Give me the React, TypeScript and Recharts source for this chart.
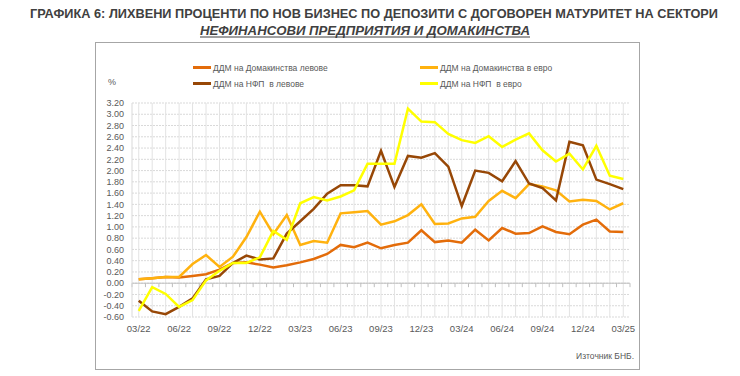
import React from 'react';
import { LineChart, Line, XAxis, YAxis, CartesianGrid, ReferenceLine } from 'recharts';

// месеци 03/22 - 03/25
const months = [
  '03/22', '04/22', '05/22', '06/22', '07/22', '08/22', '09/22', '10/22', '11/22', '12/22',
  '01/23', '02/23', '03/23', '04/23', '05/23', '06/23', '07/23', '08/23', '09/23', '10/23',
  '11/23', '12/23', '01/24', '02/24', '03/24', '04/24', '05/24', '06/24', '07/24', '08/24',
  '09/24', '10/24', '11/24', '12/24', '01/25', '02/25', '03/25',
];

const hhBgn = [
  0.07, 0.09, 0.11, 0.10, 0.13, 0.16, 0.24, 0.36, 0.37, 0.33,
  0.28, 0.32, 0.37, 0.43, 0.52, 0.68, 0.64, 0.72, 0.62, 0.68,
  0.72, 0.94, 0.73, 0.76, 0.72, 0.95, 0.76, 0.98, 0.88, 0.89,
  1.01, 0.91, 0.87, 1.04, 1.13, 0.92, 0.91,
];

const hhEur = [
  0.07, 0.09, 0.11, 0.11, 0.34, 0.50, 0.29, 0.47, 0.82, 1.27,
  0.87, 1.21, 0.68, 0.75, 0.72, 1.24, 1.26, 1.28, 1.04, 1.10,
  1.21, 1.40, 1.05, 1.06, 1.15, 1.18, 1.46, 1.64, 1.51, 1.76,
  1.72, 1.65, 1.45, 1.48, 1.46, 1.31, 1.42,
];

const nfcBgn = [
  -0.31, -0.50, -0.55, -0.42, -0.27, 0.07, 0.13, 0.36, 0.49, 0.42,
  0.44, 0.88, 1.10, 1.32, 1.59, 1.74, 1.74, 1.72, 2.35, 1.71,
  2.26, 2.23, 2.31, 2.07, 1.37, 2.00, 1.96, 1.81, 2.17, 1.77,
  1.69, 1.47, 2.51, 2.45, 1.84, 1.76, 1.67,
];

const nfcEur = [
  -0.49, -0.07, -0.19, -0.42, -0.30, 0.05, 0.22, 0.36, 0.36, 0.46,
  0.93, 0.77, 1.42, 1.53, 1.47, 1.54, 1.65, 2.12, 2.12, 2.12,
  3.10, 2.87, 2.86, 2.65, 2.54, 2.49, 2.61, 2.42, 2.55, 2.66,
  2.36, 2.16, 2.30, 2.02, 2.44, 1.91, 1.85,
];

const yTicks = [-0.6, -0.4, -0.2, 0, 0.2, 0.4, 0.6, 0.8, 1.0, 1.2, 1.4, 1.6, 1.8, 2.0, 2.2, 2.4, 2.6, 2.8, 3.0, 3.2];
const xTicks = [0, 3, 6, 9, 12, 15, 18, 21, 24, 27, 30, 33, 36];

const series = [
  { key: 'hhBgn', name: 'ДДМ на Домакинства левове', color: '#E36C0A' },
  { key: 'hhEur', name: 'ДДМ на Домакинства в евро', color: '#FFB20F' },
  { key: 'nfcBgn', name: 'ДДМ на НФП  в левове', color: '#974706' },
  { key: 'nfcEur', name: 'ДДМ на НФП  в евро', color: '#FFFF00' },
];

const data = months.map((m, i) => ({
  i,
  m,
  hhBgn: hhBgn[i],
  hhEur: hhEur[i],
  nfcBgn: nfcBgn[i],
  nfcEur: nfcEur[i],
}));

const font = '"Liberation Sans", Arial, sans-serif';
const labelColor = '#595959';

const LegendBox = () => (
  <div style={{ display: 'grid', gridTemplateColumns: '227px 200px', rowGap: 3, fontFamily: font, fontSize: 8.5, color: labelColor }}>
    {series.map((s) => (
      <div key={s.key} style={{ display: 'flex', alignItems: 'center', whiteSpace: 'pre', height: 13 }}>
        <span style={{ display: 'inline-block', width: 18, height: 2.5, background: s.color, marginRight: 2 }} />
        {s.name}
      </div>
    ))}
  </div>
);

const App = () => {
  return (
    <div style={{ position: 'absolute', left: 0, top: 0, width: 740, height: 376, background: '#fff' }}>
      <svg width={740} height={40} style={{ position: 'absolute', left: 0, top: 0 }}>
        <text x={30} y={18} textLength={688} lengthAdjust="spacingAndGlyphs" fontFamily={font} fontWeight="bold" fontSize={12.5} fill="#404040">
          ГРАФИКА 6: ЛИХВЕНИ ПРОЦЕНТИ ПО НОВ БИЗНЕС ПО ДЕПОЗИТИ С ДОГОВОРЕН МАТУРИТЕТ НА СЕКТОРИ
        </text>
        <text x={200} y={35} textLength={330} lengthAdjust="spacingAndGlyphs" fontFamily={font} fontWeight="bold" fontStyle="italic" fontSize={12.5} fill="#404040">
          НЕФИНАНСОВИ ПРЕДПРИЯТИЯ И ДОМАКИНСТВА
        </text>
        <line x1={200} x2={530} y1={37} y2={37} stroke="#404040" strokeWidth={1} />
      </svg>
      <div style={{ position: 'absolute', left: 95, top: 42, width: 545, height: 328, border: '1px solid #A6A6A6', boxSizing: 'border-box' }} />
      <div style={{ position: 'absolute', left: 108, top: 77, fontFamily: font, fontSize: 9, color: labelColor }}>%</div>
      <div style={{ position: 'absolute', left: 193, top: 61 }}>
        <LegendBox />
      </div>
      <div style={{ position: 'absolute', right: 106, top: 351, fontFamily: font, fontSize: 8.5, color: labelColor }}>Източник БНБ.</div>
      <div style={{ position: 'absolute', left: 0, top: 0 }}>
        <LineChart width={740} height={376} data={data} margin={{ top: 103, right: 110, bottom: 39, left: 92 }}>
          <CartesianGrid vertical={false} stroke="#D9D9D9" strokeDasharray="2 1" />
          {months.map((m, i) => (
            <ReferenceLine key={'g' + m} segment={[{ x: i, y: -0.6 }, { x: i, y: 3.2 }]} stroke="#E3E3E3" strokeWidth={1} />
          ))}
          <ReferenceLine y={0} stroke="#BFBFBF" strokeWidth={1} />
          {[...months, ''].map((m, k) => (
            <ReferenceLine key={'t' + k} segment={[{ x: k - 0.5, y: 0 }, { x: k - 0.5, y: -0.07 }]} stroke="#BFBFBF" strokeWidth={1} />
          ))}
          <XAxis
            type="number"
            dataKey="i"
            domain={[-0.5, 36.5]}
            ticks={xTicks}
            tickFormatter={(v) => months[v]}
            axisLine={false}
            tickLine={false}
            height={20}
            tick={{ fontFamily: font, fontSize: 9.5, fill: labelColor }}
          />
          <YAxis
            domain={[-0.6, 3.2]}
            ticks={yTicks}
            interval={0}
            tickFormatter={(v) => v.toFixed(2)}
            axisLine={{ stroke: '#D9D9D9' }}
            tickLine={false}
            width={40}
            tick={{ fontFamily: font, fontSize: 9, fill: labelColor }}
          />
          {series.map((s) => (
            <Line
              key={s.key}
              type="linear"
              dataKey={s.key}
              name={s.name}
              stroke={s.color}
              strokeWidth={2.5}
              dot={false}
              isAnimationActive={false}
            />
          ))}
        </LineChart>
      </div>
    </div>
  );
};

export default App;
